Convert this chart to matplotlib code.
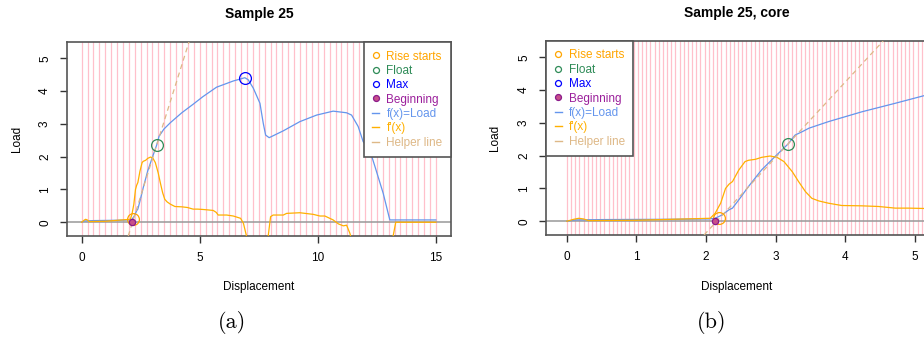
import numpy as np
import matplotlib
matplotlib.use("Agg")
import matplotlib.pyplot as plt
from matplotlib.lines import Line2D

# ---------------- data ----------------
load_x = [0, 0.12, 0.5, 1.0, 1.5, 2.04, 2.13, 2.23, 2.33, 2.38, 2.47, 2.61, 2.80,
          2.99, 3.18, 3.28, 3.38, 3.48, 3.76, 4.0, 4.24, 4.72, 5.13, 5.71, 6.42,
          6.91, 7.05, 7.27, 7.55, 7.69, 7.79, 7.94, 8.54, 9.24, 9.95, 10.65,
          11.22, 11.43, 11.71, 11.92, 12.2, 12.42, 12.77, 12.98, 13.05, 15.0]
load_y = [0, 0.04, 0.05, 0.055, 0.06, 0.07, 0.09, 0.19, 0.35, 0.40, 0.65, 1.06, 1.57,
          1.97, 2.36, 2.63, 2.73, 2.84, 3.04, 3.19, 3.34, 3.60, 3.83, 4.12, 4.31,
          4.41, 4.35, 4.09, 3.63, 3.02, 2.66, 2.58, 2.79, 3.07, 3.27, 3.39,
          3.34, 3.27, 2.92, 2.46, 2.20, 1.70, 0.88, 0.27, 0.07, 0.07]

deriv_x = [0, 0.1, 0.17, 0.24, 0.31, 1.0, 2.06, 2.13, 2.21, 2.28, 2.33, 2.38, 2.47,
           2.56, 2.61, 2.71, 2.80, 2.92, 3.02, 3.12, 3.24, 3.33, 3.43, 3.52, 3.62,
           3.76, 3.95, 4.24, 4.48, 4.72, 4.91, 5.13, 5.29, 5.57, 5.70, 5.78, 6.14,
           6.42, 6.73, 6.85, 6.98, 7.1, 7.8, 7.90, 8.0, 8.11, 8.54, 8.68, 9.24,
           9.81, 10.09, 10.3, 10.65, 10.87, 11.08, 11.22, 11.36, 11.45, 13.1,
           13.19, 13.3, 15.0]
deriv_y = [0, 0.06, 0.09, 0.07, 0.02, 0.03, 0.09, 0.24, 0.55, 1.0, 1.13, 1.21, 1.56,
           1.82, 1.86, 1.89, 1.95, 1.99, 1.95, 1.82, 1.51, 1.21, 0.90, 0.70, 0.62,
           0.55, 0.48, 0.47, 0.45, 0.40, 0.40, 0.39, 0.38, 0.36, 0.30, 0.22, 0.22,
           0.19, 0.12, -0.03, -0.42, -3.0, -3.0, -0.42, 0.17, 0.22, 0.22, 0.27, 0.29,
           0.24, 0.19, 0.19, 0.07, -0.05, -0.11, -0.09, -0.34, -0.6, -3.0,
           -0.42, 0.0, 0.0]

rise_x, rise_y = 2.18, 0.10
float_x, float_y = 3.18, 2.36
max_x, max_y = 6.91, 4.41
begin_x, begin_y = 2.13, 0.0
helper_slope = 2.3

titles = ["Sample 25", "Sample 25, core"]
captions = ["(a)", "(b)"]
legend_labels = ["Rise starts", "Float", "Max", "Beginning",
                 "f(x)=Load", "f'(x)", "Helper line"]
xticks_full = [0, 5, 10, 15]
xticks_core = [0, 1, 2, 3, 4, 5]
yticks = [0, 1, 2, 3, 4, 5]

# ---------------- style ----------------
C_RISE = "#FFA500"
C_FLOAT = "#2E8B57"
C_MAX = "#0000FF"
C_BEG_TXT = "#9B1F9B"
C_BEG_EDGE = "#8B1A8B"
C_BEG_FACE = "#C8508A"
C_LOAD = "#6495ED"
C_DERIV = "#FFB000"
C_HELP = "#DEB887"
C_PINK = "#FFC0CB"
C_BOX = "#555555"

plt.rcParams["font.family"] = ["Liberation Sans", "DejaVu Sans"]

W, H = 924, 339
fig = plt.figure(figsize=(W / 100, H / 100), dpi=100)


def px_axes(left, top, right, bottom):
    return fig.add_axes([left / W, 1 - bottom / H, (right - left) / W, (bottom - top) / H])


ax1 = px_axes(67, 42, 451, 236)
ax2 = px_axes(546, 41, 928, 235)

setups = [
    (ax1, (-0.62, 15.64), xticks_full, 0.25, 15.0, "upper right", True),
    (ax2, (-0.30, 5.19), xticks_core, 0.06, 7.5, "upper left", False),
]

for i, (ax, xlim, xt, step, xend, legloc, show_max) in enumerate(setups):
    ax.set_xlim(*xlim)
    ax.set_ylim(-0.42, 5.50)
    # pink vertical guide lines
    for xv in np.arange(0, xend + 1e-9, step):
        ax.axvline(xv, color=C_PINK, lw=0.9, zorder=1)
    ax.axhline(0, color="#999999", lw=1.1, zorder=2)
    ax.plot(load_x, load_y, color=C_LOAD, lw=0.9, zorder=3)
    ax.plot(deriv_x, deriv_y, color=C_DERIV, lw=0.9, zorder=3)
    ax.axline((float_x, float_y), slope=helper_slope, color=C_HELP, lw=0.9,
              ls=(0, (4, 3)), zorder=3)
    ax.plot([rise_x], [rise_y], "o", mfc="none", mec=C_RISE, ms=8.5, mew=0.9, zorder=4)
    ax.plot([float_x], [float_y], "o", mfc="none", mec=C_FLOAT, ms=8.5, mew=0.9, zorder=4)
    if show_max:
        ax.plot([max_x], [max_y], "o", mfc="none", mec=C_MAX, ms=8.5, mew=0.9, zorder=4)
    ax.plot([begin_x], [begin_y], "o", mfc=C_BEG_FACE, mec=C_BEG_EDGE, ms=4.5,
            mew=0.9, zorder=5)

    ax.set_xticks(xt)
    ax.set_yticks(yticks)
    ax.tick_params(axis="both", direction="out", length=5, width=1.0,
                   color="#333333", labelsize=8.5, pad=6.5)
    for lab in ax.get_yticklabels():
        lab.set_rotation(90)
        lab.set_va("center")
    for sp in ax.spines.values():
        sp.set_color(C_BOX)
        sp.set_linewidth(1.2)
    if not show_max:
        ax.spines["right"].set_visible(False)

    ax.set_title(titles[i], fontsize=10, fontweight="bold", pad=17)
    ax.set_xlabel("Displacement", fontsize=8.5)
    ax.set_ylabel("Load", fontsize=8.5)
    ax.xaxis.label.set_va("center")
    ax.yaxis.label.set_va("center")

    handles = [
        Line2D([], [], ls="none", marker="o", mfc="none", mec=C_RISE, ms=4.3, mew=0.9),
        Line2D([], [], ls="none", marker="o", mfc="none", mec=C_FLOAT, ms=4.3, mew=0.9),
        Line2D([], [], ls="none", marker="o", mfc="none", mec=C_MAX, ms=4.3, mew=0.9),
        Line2D([], [], ls="none", marker="o", mfc=C_BEG_FACE, mec=C_BEG_EDGE, ms=4.3, mew=0.9),
        Line2D([], [], color=C_LOAD, lw=1.0),
        Line2D([], [], color=C_DERIV, lw=1.0),
        Line2D([], [], color=C_HELP, lw=1.0),
    ]
    leg = ax.legend(handles, legend_labels, loc=legloc, bbox_to_anchor=(0, 0, 1, 1),
                    borderaxespad=0, fontsize=8.5, frameon=True, fancybox=False,
                    framealpha=1, edgecolor=C_BOX, handlelength=0.6,
                    handletextpad=0.6, labelspacing=0.2, borderpad=0.72,
                    labelcolor=[C_RISE, C_FLOAT, C_MAX, C_BEG_TXT, C_LOAD, C_DERIV, C_HELP])
    leg.get_frame().set_linewidth(1.2)
    leg.set_zorder(10)

ax1.xaxis.set_label_coords(0.5, -51 / 194)
ax1.yaxis.set_label_coords(-49.7 / 384, 0.5)
ax2.xaxis.set_label_coords((737 - 546) / 382, -52 / 194)
ax2.yaxis.set_label_coords(-50.7 / 382, 0.5)

fig.text(232 / W, 1 - 322 / H, captions[0], family="cmr10", fontsize=16,
         ha="center", va="center")
fig.text(712 / W, 1 - 322 / H, captions[1], family="cmr10", fontsize=16,
         ha="center", va="center")

fig.savefig("out.png", dpi=100)
